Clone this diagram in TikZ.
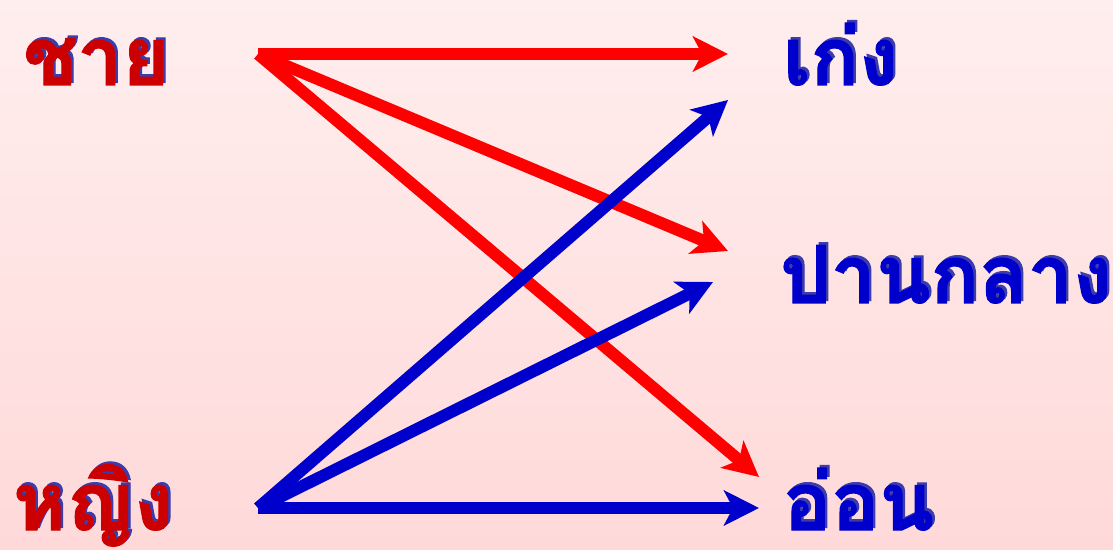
\documentclass[tikz,border=0pt]{standalone}
\usepackage{fontspec}
\newfontfamily\thaifont[Script=Thai, BoldFeatures={FakeBold=1.5}]{Loma}
\usetikzlibrary{arrows.meta}
\definecolor{wordred}{RGB}{204,0,0}
\definecolor{wordblue}{RGB}{0,0,204}
\definecolor{wordshadow}{RGB}{60,60,170}
\definecolor{fluxred}{RGB}{255,0,0}
\definecolor{fluxblue}{RGB}{0,0,204}
\definecolor{bgtop}{RGB}{255,238,238}
\definecolor{bgbottom}{RGB}{255,217,217}

\begin{document}
\begin{tikzpicture}[x=1pt, y=1pt,
    word/.style={anchor=base west, inner sep=0pt,
                 font=\thaifont\bfseries\fontsize{80}{88}\selectfont},
    shadowword/.style={word, text=wordshadow},
    flux/.style={-{Stealth[length=35pt, width=35pt, inset=9pt]},
                 line width=12pt},
  ]
  % Pozadina
  \shade[top color=bgtop, bottom color=bgbottom] (0,0) rectangle (1113,549);
  \useasboundingbox (0,0) rectangle (1113,549);

  % Spol
  \node[shadowword] (chai-s) at (25.5,466.5) {ชาย};
  \node[word, text=wordred] (chai) at (23,464) {ชาย};
  \node[shadowword] (ying-s) at (15.5,21.5) {หญิง};
  \node[word, text=wordred] (ying) at (13,19) {หญิง};

  % Uspjeh
  \node[shadowword] (keng-s) at (785.5,466.5) {เก่ง};
  \node[word, text=wordblue] (keng) at (783,464) {เก่ง};
  \node[shadowword] (panklang-s) at (782.5,248.5) {ปานกลาง};
  \node[word, text=wordblue] (panklang) at (780,246) {ปานกลาง};
  \node[shadowword] (on-s) at (785.5,21.5) {อ่อน};
  \node[word, text=wordblue] (on) at (783,19) {อ่อน};

  % Krajevi strelica
  \coordinate (chai-out) at (258,495);
  \coordinate (ying-out) at (258,41);
  \coordinate (keng-red) at (728,495);
  \coordinate (panklang-red) at (728,298);
  \coordinate (on-red) at (759,72);
  \coordinate (keng-blue) at (728,449);
  \coordinate (panklang-blue) at (713,267);
  \coordinate (on-blue) at (759,41);

  % Strelice
  \draw[flux, fluxred] (chai-out) -- (keng-red);
  \draw[flux, fluxred] (chai-out) -- (panklang-red);
  \draw[flux, fluxred] (chai-out) -- (on-red);

  \draw[flux, fluxblue] (ying-out) -- (keng-blue);
  \draw[flux, fluxblue] (ying-out) -- (panklang-blue);
  \draw[flux, fluxblue] (ying-out) -- (on-blue);
\end{tikzpicture}
\end{document}
